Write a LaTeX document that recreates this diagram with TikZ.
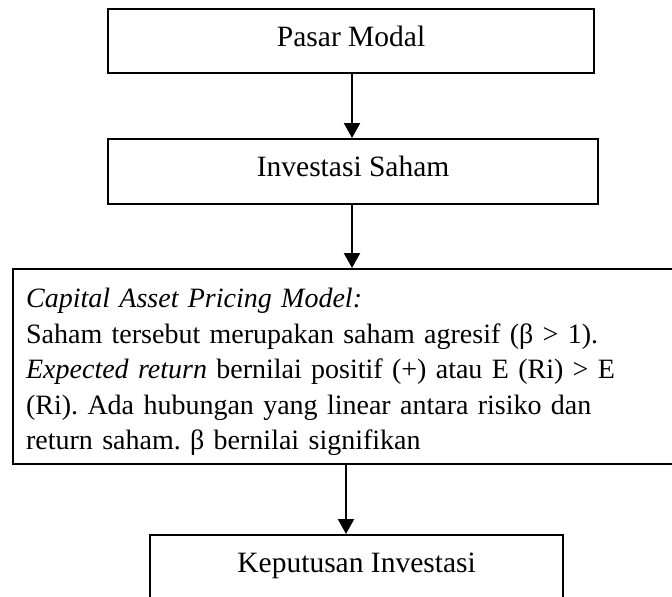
\documentclass[tikz,border=0pt]{standalone}
\usepackage{fontspec}
\setmainfont{Liberation Serif}
\newfontfamily\boxfont{Liberation Serif}[WordSpace=0.75]
\usetikzlibrary{arrows.meta}
\tikzset{
  box/.style={draw=black, line width=1.1pt, rectangle, inner xsep=0pt, inner ysep=0pt,
    text height=18.5pt, text depth=13.5pt},
  arr/.style={line width=1.15pt, -{Triangle[width=8pt,length=7.5pt]}},
}
\begin{document}
\frenchspacing
\begin{tikzpicture}[x=0.5pt,y=-0.5pt,
  every node/.append style={font=\fontsize{14.75pt}{17.75pt}\selectfont}]
\useasboundingbox (0,0) rectangle (672,596);
\clip (0,0) rectangle (672,596);
\fill[white] (0,0) rectangle (672,596);

% flow boxes
\node[box, anchor=north west, minimum width=243pt, minimum height=32pt] (pasar) at (107,8) {Pasar Modal};
\node[box, anchor=north west, minimum width=245pt, minimum height=32.5pt] (saham) at (107,138) {Investasi Saham};
\node[box, anchor=north west, minimum width=345pt, align=left, text width=332pt,
      inner xsep=6.5pt, text height=19.25pt, text depth=78.25pt,
      font=\boxfont\fontsize{14pt}{17.75pt}\selectfont\frenchspacing] (capm) at (12,268)
  {\textit{Capital Asset Pricing Model:}\\
   Saham tersebut merupakan saham agresif (β > 1).\\
   \textit{Expected return} bernilai positif (+) atau E (Ri) > E\\
   (Ri). Ada hubungan yang linear antara risiko dan\\
   return saham. β bernilai signifikan};
\node[box, anchor=north west, minimum width=206.5pt, minimum height=32pt] (kep) at (149,534) {Keputusan Investasi};

% connectors
\coordinate (xa) at (352,0);
\coordinate (xb) at (346,0);
\draw[arr] (pasar.south -| xa) -- (saham.north -| xa);
\draw[arr] (saham.south -| xa) -- (capm.north -| xa);
\draw[arr] (capm.south -| xb) -- (kep.north -| xb);
\end{tikzpicture}
\end{document}
